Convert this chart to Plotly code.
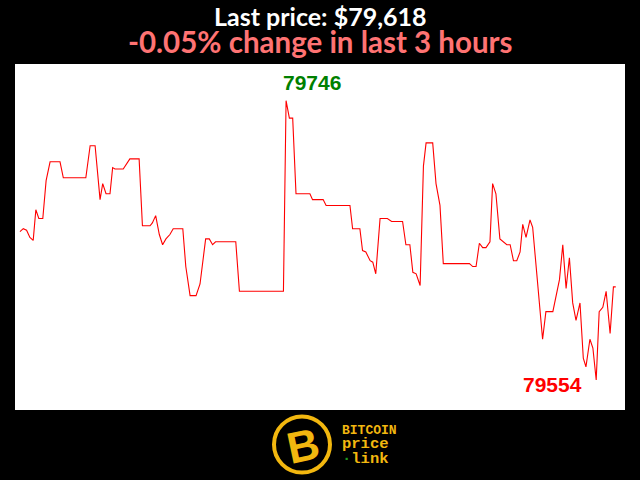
import plotly.graph_objects as go

# minutes since start of the 3-hour window
minutes = [0, 1.0, 2.0, 3.0, 4.0, 4.8, 5.7, 6.9, 7.9, 9.1, 12.1, 13.1, 19.9, 21.2, 22.7,
           24.2, 25.0, 26.0, 27.2, 28.0, 28.7, 31.2, 33.2, 36.0, 37.0, 39.3, 40.0, 41.0,
           42.1, 43.1, 44.1, 45.3, 46.3, 49.2, 50.1, 51.4, 53.2, 54.4, 56.1, 57.2, 58.2,
           59.1, 65.2, 66.3, 79.6, 80.4, 81.4, 82.4, 83.4, 87.6, 88.4, 91.6, 92.5, 99.7,
           100.5, 102.7, 103.5, 104.5, 105.8, 106.6, 107.5, 108.8, 111.0, 112.3, 115.6,
           116.6, 117.8, 118.7, 119.7, 120.9, 121.9, 122.7, 124.7, 125.7, 126.9, 127.9,
           135.8, 136.8, 137.8, 138.8, 139.8, 140.8, 142.0, 142.8, 143.8, 145.0, 147.1,
           148.1, 149.1, 150.1, 151.1, 151.9, 152.9, 154.1, 154.9, 157.9, 158.9, 161.0,
           163.0, 164.0, 165.0, 166.0, 167.0, 168.0, 169.2, 170.2, 171.0, 172.2, 173.1,
           174.1, 175.0, 176.1, 177.1, 178.3, 179.3, 180.0]

prices = [79656, 79658, 79657, 79652, 79650, 79671, 79665, 79665, 79691, 79704, 79704,
          79693, 79693, 79715, 79715, 79678, 79689, 79682, 79682, 79700, 79699, 79699,
          79706, 79706, 79660, 79660, 79662, 79667, 79654, 79647, 79651, 79654, 79658,
          79658, 79632, 79612, 79612, 79620, 79651, 79651, 79647, 79649, 79649, 79615,
          79615, 79746, 79734, 79734, 79682, 79682, 79678, 79678, 79674, 79674, 79658,
          79658, 79643, 79642, 79636, 79635, 79627, 79665, 79665, 79663, 79663, 79647,
          79647, 79628, 79627, 79619, 79701, 79717, 79717, 79689, 79674, 79634, 79634,
          79632, 79632, 79648, 79645, 79645, 79649, 79689, 79682, 79651, 79647, 79647,
          79636, 79636, 79642, 79661, 79652, 79664, 79659, 79582, 79601, 79601, 79623,
          79647, 79617, 79638, 79607, 79595, 79607, 79569, 79563, 79582, 79576, 79554,
          79601, 79604, 79615, 79586, 79618, 79618]

title_line1 = "Last price: $79,618"
title_line2 = "-0.05% change in last 3 hours"

imax = prices.index(max(prices))
imin = prices.index(min(prices))

fig = go.Figure()
fig.add_trace(go.Scatter(x=minutes, y=prices, mode="lines",
                         line=dict(color="#ff0000", width=1.1), hoverinfo="skip"))

fig.update_layout(
    width=640, height=480,
    margin=dict(l=15, r=15, t=64, b=70),
    paper_bgcolor="black", plot_bgcolor="white",
    showlegend=False,
    xaxis=dict(range=[-1.5, 182.8], visible=False, fixedrange=True),
    yaxis=dict(range=[79533.4, 79771.2], visible=False, fixedrange=True),
)


def py(p):
    # vertical pixel position -> paper fraction
    return (410 - p) / 346


def px(p):
    return (p - 15) / 610


ann = []
ann.append(dict(x=minutes[imax], y=prices[imax], xref="x", yref="y", text=f"<b>{prices[imax]}</b>",
                showarrow=False, xshift=26, yshift=18,
                font=dict(family="Liberation Sans", size=21, color="#008000")))
ann.append(dict(x=minutes[imin], y=prices[imin], xref="x", yref="y", text=f"<b>{prices[imin]}</b>",
                showarrow=False, xshift=-44, yshift=-4.5,
                font=dict(family="Liberation Sans", size=21, color="#ff0000")))
title_text = (f"<b><span style='font-size:25px'>{title_line1}</span><br>"
              f"<span style='font-size:29.5px;color:#ff7373'>{title_line2}</span></b>")
ann.append(dict(x=px(320), y=py(30), xref="paper", yref="paper", text=title_text,
                xanchor="center", yanchor="middle", align="center",
                showarrow=False, font=dict(family="Lato", size=21, color="white")))

gold = "#f2b70f"
# logo text (one block, three lines)
logo_text = ("<b><span style='font-size:13px'>BITCOIN</span><br>"
             "<span style='font-size:15.5px'>price</span><br>"
             "<span style='font-size:15.5px'><span style='color:#1f9a1f'>·</span>link</span></b>")
ann.append(dict(x=px(340), y=py(445), xref="paper", yref="paper", text=logo_text,
                xanchor="left", yanchor="middle", align="left", showarrow=False,
                font=dict(family="Liberation Mono", size=11, color=gold)))
ann.append(dict(x=px(303), y=py(445), xref="paper", yref="paper",
                text="<b>B</b>", showarrow=False, textangle=-12,
                xanchor="center", yanchor="middle",
                font=dict(family="Liberation Sans", size=44, color=gold)))
fig.update_layout(annotations=ann)

fig.add_shape(type="circle", xref="paper", yref="paper",
              x0=px(274), x1=px(330), y0=py(472.5), y1=py(416.5),
              line=dict(color=gold, width=4), fillcolor="black", layer="below")

fig.write_html("out.html", config={"displayModeBar": False},
               post_script="document.body.style.margin='0';")
